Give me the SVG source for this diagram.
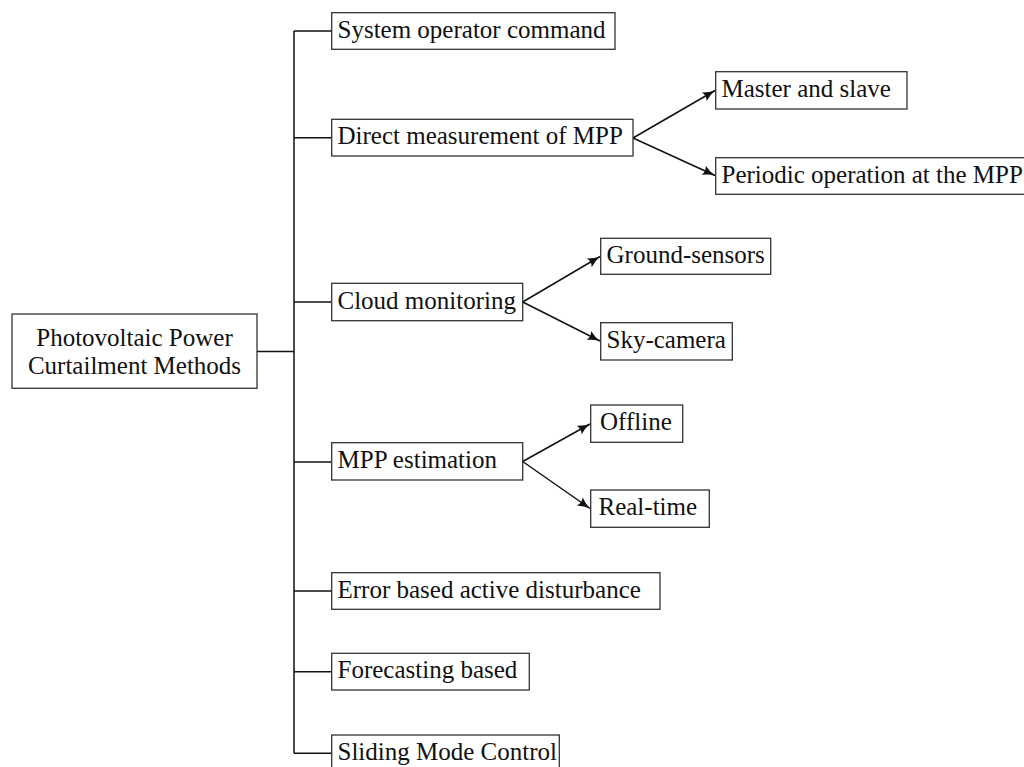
<svg xmlns="http://www.w3.org/2000/svg" width="1024" height="767" viewBox="0 0 1024 767">
<style>
.box{fill:#fff;stroke:#333;stroke-width:1.3}
.t{font-family:"Liberation Serif","Times New Roman",serif;font-size:25px;fill:#111}
.ln{fill:none;stroke:#111;stroke-width:1.5}
.ar{fill:none;stroke:#111;stroke-width:1.5;marker-end:url(#ah)}
</style>
<defs>
<marker id="ah" markerUnits="userSpaceOnUse" markerWidth="16" markerHeight="12" viewBox="-14 -6 16 12" refX="0" refY="0" orient="auto">
<path d="M-12.5,-5 Q-6.5,-1.2 0,0 Q-6.5,1.2 -12.5,5 Q-9.5,0 -12.5,-5 Z" fill="#111"/>
</marker>
</defs>
<rect width="1024" height="767" fill="#fff"/>
<g id="connectors">
<path class="ln" d="M257,351.5 H294 M294,31 V753.3 M294,31 H331.7 M294,137.7 H331.7 M294,302 H331.7 M294,462 H331.7 M294,591 H331.7 M294,671.7 H331.7 M294,753.3 H331.7"/>
<path class="ar" d="M633,138 L715,90.5"/>
<path class="ar" d="M633,138 L715,175.5"/>
<path class="ar" d="M522.7,302 L600,256.5"/>
<path class="ar" d="M522.7,302 L600,341"/>
<path class="ar" d="M522.7,461.5 L590,424"/>
<path class="ar" d="M522.7,461.5 L590,508.5"/>
</g>
<g id="root">
<rect class="box" x="12" y="314" width="245" height="74.3"/>
<text class="t" x="134.5" y="346" text-anchor="middle">Photovoltaic Power</text>
<text class="t" x="134.5" y="374" text-anchor="middle">Curtailment Methods</text>
</g>
<g id="system">
<rect class="box" x="331.7" y="12.7" width="283.3" height="36.6"/>
<text class="t" x="337.5" y="37.5">System operator command</text>
</g>
<g id="direct">
<rect class="box" x="331.7" y="119.3" width="301.3" height="36.7"/>
<text class="t" x="337.5" y="144.2">Direct measurement of MPP</text>
</g>
<g id="cloud">
<rect class="box" x="331.7" y="283.3" width="191" height="37.4"/>
<text class="t" x="337.5" y="308.5">Cloud monitoring</text>
</g>
<g id="mppest">
<rect class="box" x="331.7" y="442.7" width="191" height="37.3"/>
<text class="t" x="337.5" y="467.8">MPP estimation</text>
</g>
<g id="error">
<rect class="box" x="331.7" y="572.7" width="328.3" height="36.6"/>
<text class="t" x="337.5" y="597.5">Error based active disturbance</text>
</g>
<g id="forecasting">
<rect class="box" x="331.7" y="653.3" width="197.6" height="36.7"/>
<text class="t" x="337.5" y="678.2">Forecasting based</text>
</g>
<g id="sliding">
<rect class="box" x="331.7" y="735" width="227.6" height="36.7"/>
<text class="t" x="337.5" y="759.8">Sliding Mode Control</text>
</g>
<g id="master">
<rect class="box" x="715.7" y="71.7" width="191.3" height="37.3"/>
<text class="t" x="721.5" y="96.8">Master and slave</text>
</g>
<g id="periodic">
<rect class="box" x="715.7" y="157.7" width="330" height="36.6"/>
<text class="t" x="721.5" y="182.5">Periodic operation at the MPP</text>
</g>
<g id="ground">
<rect class="box" x="600.7" y="238.3" width="170" height="36"/>
<text class="t" x="606.5" y="262.8">Ground-sensors</text>
</g>
<g id="sky">
<rect class="box" x="600.7" y="322.7" width="131.6" height="37.3"/>
<text class="t" x="606.5" y="347.8">Sky-camera</text>
</g>
<g id="offline">
<rect class="box" x="590.7" y="405" width="92" height="37.3"/>
<text class="t" x="600" y="430.2">Offline</text>
</g>
<g id="realtime">
<rect class="box" x="590.7" y="490" width="118.6" height="37.3"/>
<text class="t" x="598.5" y="515.2">Real-time</text>
</g>
</svg>
